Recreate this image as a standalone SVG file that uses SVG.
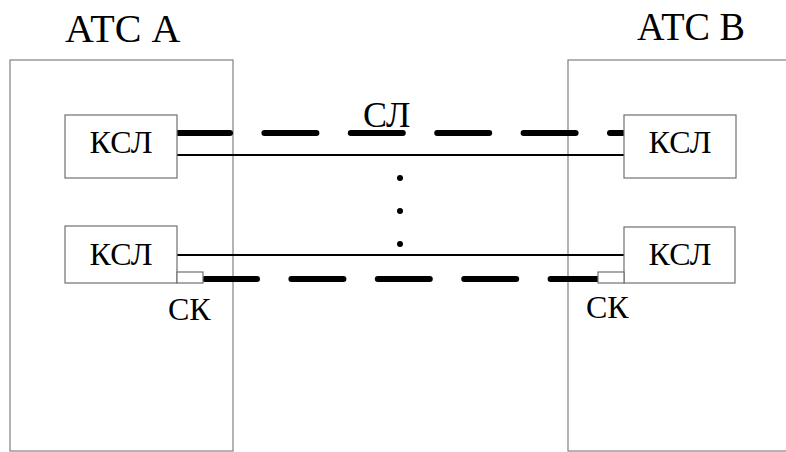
<svg xmlns="http://www.w3.org/2000/svg" width="786" height="452" viewBox="0 0 786 452">
<rect width="786" height="452" fill="#fff"/>
<g id="atcA">
<rect x="10" y="60" width="223" height="391" fill="none" stroke="#808080" stroke-width="1.2"/>
<text font-family="Liberation Serif" x="65" y="42" font-size="40">АТС А</text>
</g>
<g id="atcB">
<rect x="568" y="60" width="222" height="391" fill="none" stroke="#808080" stroke-width="1.2"/>
<text font-family="Liberation Serif" x="637" y="40" font-size="40" textLength="108" lengthAdjust="spacingAndGlyphs">АТС В</text>
</g>
<g id="connectors">
<g stroke="#000" stroke-width="2.2">
<line x1="177" y1="155" x2="624" y2="155"/>
<line x1="177" y1="255" x2="624" y2="255"/>
</g>
<g stroke="#000" stroke-width="6" stroke-linecap="round" stroke-dasharray="52 34.4" fill="none">
<path d="M178 133H623"/>
<path d="M205 279H597"/>
</g>
<g fill="#000">
<circle cx="400" cy="178" r="3"/>
<circle cx="400" cy="211" r="3"/>
<circle cx="400" cy="244" r="3"/>
</g>
<text font-family="Liberation Serif" x="363" y="127" font-size="36">СЛ</text>
</g>
<g id="kslA1">
<rect x="65" y="115" width="112" height="63" fill="#fff" stroke="#707070" stroke-width="1.2"/>
<text font-family="Liberation Serif" x="121" y="153" font-size="32" text-anchor="middle">КСЛ</text>
</g>
<g id="kslA2">
<rect x="65" y="226" width="112" height="57" fill="#fff" stroke="#707070" stroke-width="1.2"/>
<text font-family="Liberation Serif" x="121" y="265" font-size="32" text-anchor="middle">КСЛ</text>
</g>
<g id="kslB1">
<rect x="624" y="115" width="112" height="63" fill="#fff" stroke="#707070" stroke-width="1.2"/>
<text font-family="Liberation Serif" x="680" y="153" font-size="32" text-anchor="middle">КСЛ</text>
</g>
<g id="kslB2">
<rect x="624" y="227" width="111" height="56" fill="#fff" stroke="#707070" stroke-width="1.2"/>
<text font-family="Liberation Serif" x="680" y="265" font-size="32" text-anchor="middle">КСЛ</text>
</g>
<g id="skA">
<rect x="177" y="272" width="26" height="11" fill="#fff" stroke="#707070" stroke-width="1.2"/>
<text font-family="Liberation Serif" x="168" y="320" font-size="32">СК</text>
</g>
<g id="skB">
<rect x="598" y="272" width="26" height="11" fill="#fff" stroke="#707070" stroke-width="1.2"/>
<text font-family="Liberation Serif" x="586" y="318" font-size="32">СК</text>
</g>
</svg>
